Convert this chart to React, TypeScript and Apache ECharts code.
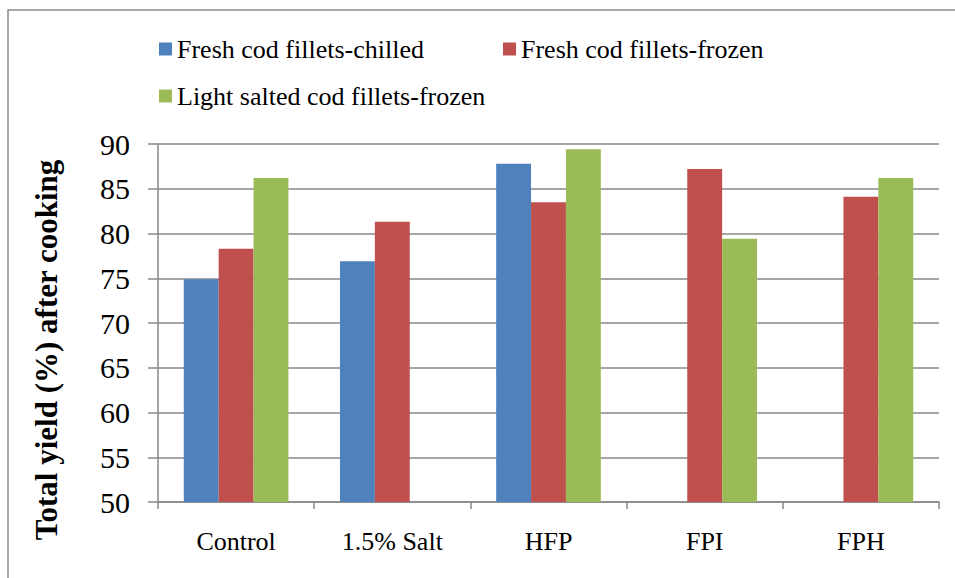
import React, { useEffect, useRef } from "react";
import * as echarts from "echarts";

const categories = ["Control", "1.5% Salt", "HFP", "FPI", "FPH"];
const seriesNames = [
  "Fresh cod fillets-chilled",
  "Fresh cod fillets-frozen",
  "Light salted cod fillets-frozen",
];
const chilled: (number | string)[] = [74.9, 76.9, 87.8, "-", "-"];
const frozen: (number | string)[] = [78.3, 81.3, 83.5, 87.2, 84.1];
const salted: (number | string)[] = [86.2, "-", 89.4, 79.4, 86.2];
const colors = ["#4F81BD", "#C0504D", "#9BBB59"];
const yTitle = "Total yield (%) after cooking";

const FONT = "Liberation Serif";

export default function App() {
  const ref = useRef<HTMLDivElement>(null);
  useEffect(() => {
    if (!ref.current) return;
    const chart = echarts.init(ref.current, null, { renderer: "svg" });
    const legendText = { fontFamily: FONT, fontSize: 26, color: "#000" };
    const mkLegend = (name: string, left: number, top: number) => ({
      data: [name],
      left,
      top,
      icon: "rect",
      itemWidth: 13,
      itemHeight: 13,
      itemGap: 0,
      textStyle: legendText,
      selectedMode: false,
    });
    const values = [chilled, frozen, salted];
    chart.setOption({
      animation: false,
      backgroundColor: "#fff",
      color: colors,
      legend: [
        mkLegend(seriesNames[0], 154, 31),
        mkLegend(seriesNames[1], 498, 31),
        mkLegend(seriesNames[2], 154, 78),
      ],
      grid: { left: 158, right: 16, top: 144, bottom: 76, containLabel: false },
      xAxis: {
        type: "category",
        data: categories,
        boundaryGap: true,
        axisLine: { show: true, lineStyle: { color: "#898989", width: 1.5 } },
        axisTick: { show: true, length: 7, lineStyle: { color: "#898989", width: 1.5 } },
        axisLabel: { fontFamily: FONT, fontSize: 26, color: "#000", margin: 26 },
      },
      yAxis: {
        type: "value",
        min: 50,
        max: 90,
        interval: 5,
        axisLine: { show: true, lineStyle: { color: "#898989", width: 1.5 } },
        axisTick: { show: true, length: 10, lineStyle: { color: "#898989", width: 1.5 } },
        axisLabel: { fontFamily: FONT, fontSize: 30, color: "#000", margin: 28 },
        splitLine: { show: true, lineStyle: { color: "#898989", width: 1.5 } },
      },
      series: seriesNames.map((name, i) => ({
        name,
        type: "bar",
        data: values[i],
        barGap: "0%",
        barCategoryGap: "33%",
        itemStyle: { color: colors[i] },
      })),
      graphic: [
        {
          type: "rect",
          shape: { x: 8, y: 10, width: 1000, height: 1000 },
          style: { fill: "none", stroke: "#8c8c8c", lineWidth: 1.5 },
          silent: true,
        },
        {
          type: "text",
          x: 46,
          y: 350,
          rotation: Math.PI / 2,
          style: {
            text: yTitle,
            fontFamily: FONT,
            fontSize: 31,
            fontWeight: "bold",
            fill: "#000",
            align: "center",
            verticalAlign: "middle",
          },
        },
      ],
    });
    return () => chart.dispose();
  }, []);
  return (
    <div
      ref={ref}
      style={{ position: "fixed", left: 0, top: 0, width: 955, height: 578 }}
    />
  );
}
